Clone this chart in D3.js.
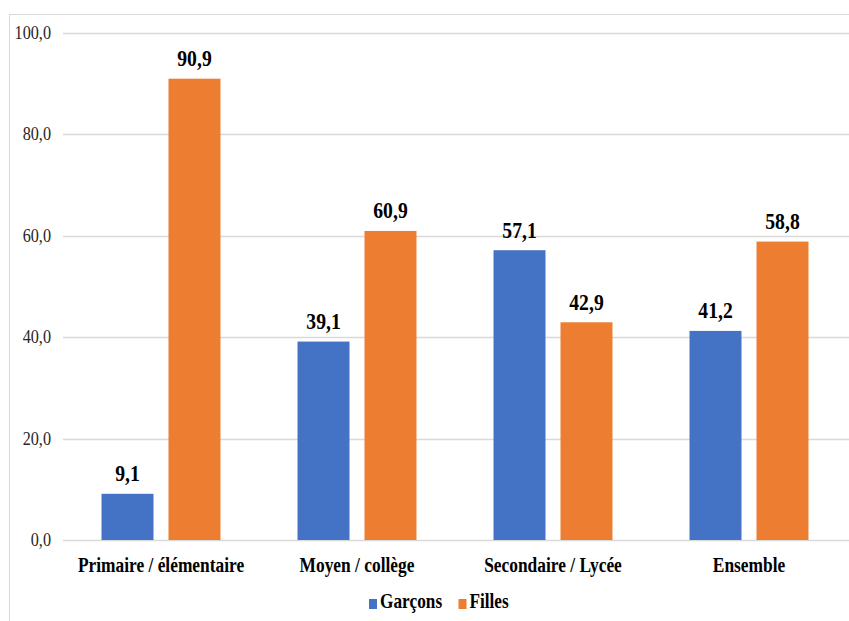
<!DOCTYPE html>
<html>
<head>
<meta charset="utf-8">
<script src="https://cdn.jsdelivr.net/npm/d3@7"></script>
<style>
  html, body { margin: 0; padding: 0; background: #fff; }
  svg { display: block; }
</style>
</head>
<body>
<svg id="chart" width="849" height="621"></svg>
<script>
// Répartition par niveau d'enseignement (%)
const categories = ["Primaire / élémentaire", "Moyen / collège", "Secondaire / Lycée", "Ensemble"];
const seriesNames = ["Garçons", "Filles"];
const garcons = [9.1, 39.1, 57.1, 41.2];
const filles = [90.9, 60.9, 42.9, 58.8];
const yTicks = [0, 20, 40, 60, 80, 100];

const colors = { "Garçons": "#4472C4", "Filles": "#ED7D31" };
const values = { "Garçons": garcons, "Filles": filles };

const W = 849, H = 621;
const plot = { left: 63, right: 847, top: 32.5, bottom: 540 };
const FONT = "'Liberation Serif', 'Times New Roman', serif";

const svg = d3.select("#chart");

// outer chart frame
svg.append("rect")
  .attr("x", 9.5).attr("y", 14.5)
  .attr("width", W + 20).attr("height", H + 20)
  .attr("fill", "#fff").attr("stroke", "#d9d9d9").attr("stroke-width", 1);

const y = d3.scaleLinear().domain([0, 100]).range([plot.bottom, plot.top]);
const x0 = d3.scaleBand().domain(categories).range([plot.left, plot.right]).padding(0);
const x1 = d3.scaleBand().domain(seriesNames).range([0, x0.bandwidth()])
  .paddingInner(0.224).paddingOuter(0.575);

const fmt = v => d3.format(".1f")(v).replace(".", ",");

// condensed text: horizontal scale sx around the anchor point
function label(g, x, yy, txt, size, weight, anchor, fill, sx) {
  return g.append("text")
    .attr("transform", `translate(${x},${yy}) scale(${sx},1)`)
    .attr("text-anchor", anchor)
    .style("font-family", FONT)
    .style("font-size", size + "px")
    .style("font-weight", weight)
    .attr("fill", fill)
    .text(txt);
}

// gridlines
const grid = svg.append("g");
yTicks.forEach(t => {
  grid.append("line")
    .attr("x1", plot.left).attr("x2", W)
    .attr("y1", Math.round(y(t)) + 0.5).attr("y2", Math.round(y(t)) + 0.5)
    .attr("stroke", "#d9d9d9").attr("stroke-width", 1.3);
});

// y tick labels
const yAxis = svg.append("g");
yTicks.forEach(t => {
  label(yAxis, 51, y(t) + 6, fmt(t), 18, "normal", "end", "#262626", 0.9);
});

// bars and value labels
const groups = svg.append("g").selectAll("g")
  .data(categories)
  .join("g")
  .attr("transform", d => `translate(${x0(d)},0)`);

groups.each(function(cat, i) {
  const g = d3.select(this);
  seriesNames.forEach(s => {
    const v = values[s][i];
    g.append("rect")
      .attr("x", x1(s))
      .attr("y", y(v))
      .attr("width", x1.bandwidth())
      .attr("height", y(0) - y(v))
      .attr("fill", colors[s]);
    label(g, x1(s) + x1.bandwidth() / 2, y(v) - 12.5, fmt(v), 24, "bold", "middle", "#000", 0.82);
  });
});

// category labels
const xAxis = svg.append("g");
categories.forEach(c => {
  label(xAxis, x0(c) + x0.bandwidth() / 2, 572, c, 22, "bold", "middle", "#000", 0.79);
});

// legend
const legend = svg.append("g");
const legendItems = [
  { name: "Garçons", sq: 369, tx: 380 },
  { name: "Filles", sq: 458.5, tx: 469.5 }
];
legendItems.forEach(it => {
  legend.append("rect")
    .attr("x", it.sq).attr("y", 599)
    .attr("width", 8).attr("height", 10)
    .attr("fill", colors[it.name]);
  label(legend, it.tx, 608, it.name, 21, "bold", "start", "#000", 0.82);
});
</script>
</body>
</html>
